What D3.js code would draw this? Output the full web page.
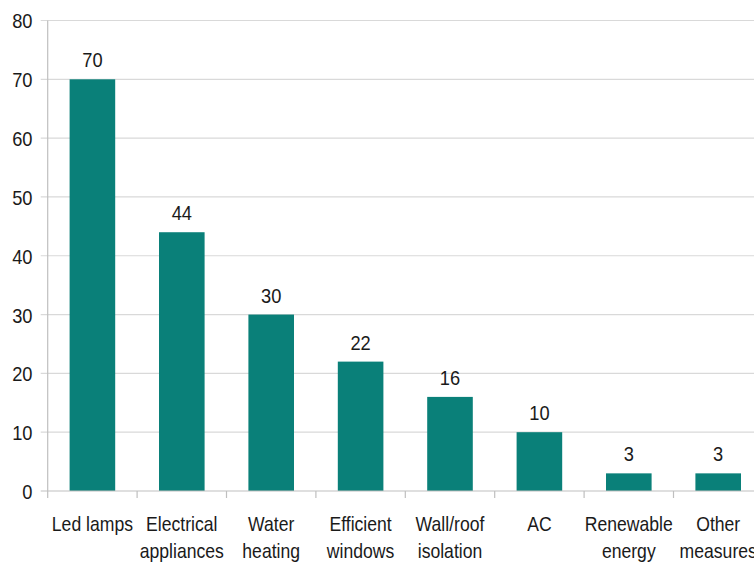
<!DOCTYPE html>
<html>
<head>
<meta charset="utf-8">
<script src="https://cdn.jsdelivr.net/npm/d3@7"></script>
<style>
  body { margin: 0; background: #fff; }
  text { font-family: "Liberation Sans", Arial, sans-serif; fill: #1a1a1a; }
</style>
</head>
<body>
<div id="chart"></div>
<script>
// data
var categories = [["Led lamps"], ["Electrical", "appliances"], ["Water", "heating"],
  ["Efficient", "windows"], ["Wall/roof", "isolation"], ["AC"], ["Renewable", "energy"], ["Other", "measures"]]
var values = [70, 44, 30, 22, 16, 10, 3, 3]
var yTicks = [0, 10, 20, 30, 40, 50, 60, 70, 80]

var W = 754, H = 565
var margin = {top: 20.5, left: 47.7, bottom: 74}
var bandW = 89.4
var plotH = H - margin.top - margin.bottom

var svg = d3.select("#chart").append("svg")
    .attr("width", W).attr("height", H)

var x = d3.scaleBand()
    .domain(d3.range(categories.length))
    .range([margin.left, margin.left + bandW * categories.length])
    .paddingInner(0.49).paddingOuter(0.245)

var y = d3.scaleLinear().domain([0, 80]).range([margin.top + plotH, margin.top])

// gridlines
svg.append("g").selectAll("line").data(yTicks.slice(1)).join("line")
    .attr("x1", margin.left - 7).attr("x2", W)
    .attr("y1", d => y(d)).attr("y2", d => y(d))
    .style("stroke", "#d9d9d9").style("stroke-width", 1.2)

// y labels
svg.append("g").selectAll("text").data(yTicks).join("text")
    .attr("transform", d => "translate(32.5," + y(d) + ") scale(0.87,1)")
    .attr("dy", "0.38em")
    .attr("text-anchor", "end").style("font-size", "21px")
    .text(d => d)

// bars
svg.append("g").selectAll("rect").data(values).join("rect")
    .attr("x", (d, i) => x(i)).attr("width", x.bandwidth())
    .attr("y", d => y(d)).attr("height", d => y(0) - y(d))
    .style("fill", "#0a8079")

// value labels
svg.append("g").selectAll("text").data(values).join("text")
    .attr("transform", (d, i) => "translate(" + (x(i) + x.bandwidth() / 2) + "," + (y(d) - 12) + ") scale(0.87,1)")
    .attr("text-anchor", "middle").style("font-size", "21px")
    .text(d => d)

// axes lines
svg.append("line")
    .attr("x1", margin.left).attr("x2", margin.left)
    .attr("y1", y(80)).attr("y2", y(0))
    .style("stroke", "#bfbfbf").style("stroke-width", 1.2)
svg.append("line")
    .attr("x1", margin.left - 7).attr("x2", W)
    .attr("y1", y(0)).attr("y2", y(0))
    .style("stroke", "#bfbfbf").style("stroke-width", 1.2)

// category ticks
svg.append("g").selectAll("line").data(d3.range(categories.length + 1)).join("line")
    .attr("x1", d => margin.left + d * bandW).attr("x2", d => margin.left + d * bandW)
    .attr("y1", y(0)).attr("y2", y(0) + 7)
    .style("stroke", "#bfbfbf").style("stroke-width", 1.2)

// category labels
var cat = svg.append("g").selectAll("text").data(categories).join("text")
    .attr("text-anchor", "middle").style("font-size", "20px")
    .attr("transform", (d, i) => "translate(" + (x(i) + x.bandwidth() / 2) + ",531) scale(0.88,1)")
cat.selectAll("tspan").data(d => d).join("tspan")
    .attr("x", 0).attr("dy", (d, j) => j === 0 ? 0 : 27)
    .text(d => d)
</script>
</body>
</html>
